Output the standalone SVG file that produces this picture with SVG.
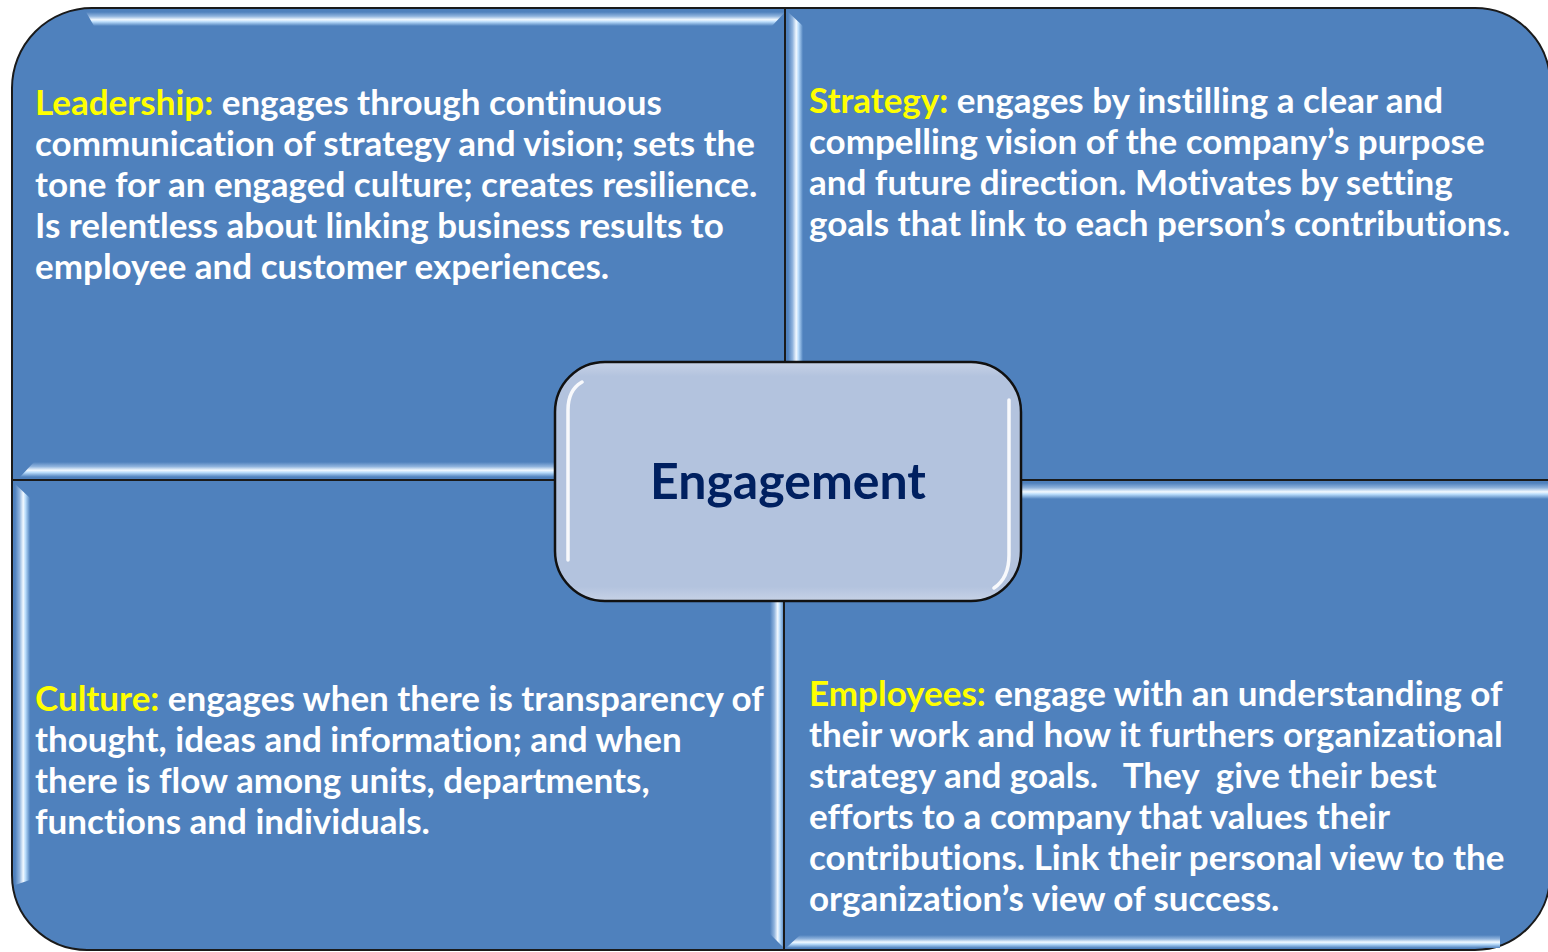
<svg xmlns="http://www.w3.org/2000/svg" width="1548" height="952" viewBox="0 0 1548 952">
<style>
.q{fill:#4f81bd;stroke:#1a1a1a;stroke-width:2}
.t{font-family:Lato,"Open Sans","Liberation Sans",sans-serif;font-weight:bold;font-size:35px;fill:#ffffff;white-space:pre;font-variant-ligatures:none}
.y{fill:#ffff00}
.c{font-family:Lato,"Open Sans","Liberation Sans",sans-serif;font-weight:bold;font-size:50px;fill:#002060;font-variant-ligatures:none}
</style>
<defs>
<linearGradient id="hv" x1="0" y1="0" x2="0" y2="1">
<stop offset="0" stop-color="#4f81bd"/>
<stop offset="0.3" stop-color="#8fb3dd"/>
<stop offset="0.55" stop-color="#f2f9ff"/>
<stop offset="0.7" stop-color="#b9dcfb"/>
<stop offset="1" stop-color="#4f81bd"/>
</linearGradient>
<linearGradient id="hh" x1="0" y1="0" x2="1" y2="0">
<stop offset="0" stop-color="#4f81bd"/>
<stop offset="0.3" stop-color="#8fb3dd"/>
<stop offset="0.55" stop-color="#f2f9ff"/>
<stop offset="0.7" stop-color="#b9dcfb"/>
<stop offset="1" stop-color="#4f81bd"/>
</linearGradient>
<linearGradient id="cb" x1="0" y1="0" x2="0" y2="1">
<stop offset="0" stop-color="#c7d2e6"/>
<stop offset="0.06" stop-color="#b3c3de"/>
<stop offset="0.94" stop-color="#b3c3de"/>
<stop offset="1" stop-color="#c7d2e6"/>
</linearGradient>
</defs>
<g id="leadership">
<path class="q" d="M12,480 L12,88 A80,80 0 0 1 92,8 L785,8 L785,480 Z"/>
<polygon points="86,12 785,12 772,26 94,26" fill="url(#hv)"/>
<polygon points="34,462 785,462 785,477 20,477" fill="url(#hv)"/>
<text class="t" x="35" y="115"><tspan class="y">Leadership:</tspan> engages through continuous</text>
<text class="t" x="35" y="156">communication of strategy and vision; sets the</text>
<text class="t" x="35" y="197">tone for an engaged culture; creates resilience.</text>
<text class="t" x="35" y="238">Is relentless about linking business results to</text>
<text class="t" x="35" y="279">employee and customer experiences.</text>
</g>
<g id="strategy">
<path class="q" d="M785,8 L1475,8 A75,75 0 0 1 1550,83 L1550,480 L785,480 Z"/>
<polygon points="788,12 803,26 803,480 788,480" fill="url(#hh)"/>
<text class="t" x="809" y="113"><tspan class="y">Strategy:</tspan> engages by instilling a clear and</text>
<text class="t" x="809" y="154">compelling vision of the company’s purpose</text>
<text class="t" x="809" y="195">and future direction. Motivates by setting</text>
<text class="t" x="809" y="236">goals that link to each person’s contributions.</text>
</g>
<g id="culture">
<path class="q" d="M12,480 L784,480 L784,950 L87,950 A75,75 0 0 1 12,875 Z"/>
<polygon points="15,484 30,498 30,880 15,885" fill="url(#hh)"/>
<polygon points="770,480 784,480 784,948 770,934" fill="url(#hh)"/>
<text class="t" x="35" y="711"><tspan class="y">Culture:</tspan> engages when there is transparency of</text>
<text class="t" x="35" y="752">thought, ideas and information; and when</text>
<text class="t" x="35" y="793">there is flow among units, departments,</text>
<text class="t" x="35" y="834">functions and individuals.</text>
</g>
<g id="employees">
<path class="q" d="M784,480 L1550,480 L1550,875 A75,75 0 0 1 1475,950 L784,950 Z"/>
<polygon points="784,483 1550,483 1550,499 784,499" fill="url(#hv)"/>
<polygon points="800,935 1500,935 1500,948 786,948" fill="url(#hv)"/>
<text class="t" x="809" y="706"><tspan class="y">Employees:</tspan> engage with an understanding of</text>
<text class="t" x="809" y="747">their work and how it furthers organizational</text>
<text class="t" x="809" y="788">strategy and goals.   They  give their best</text>
<text class="t" x="809" y="829">efforts to a company that values their</text>
<text class="t" x="809" y="870">contributions. Link their personal view to the</text>
<text class="t" x="809" y="911">organization’s view of success.</text>
</g>
<g id="engagement">
<rect x="555" y="362" width="466" height="239" rx="50" ry="50" fill="url(#cb)" stroke="#111111" stroke-width="2.5"/>
<path d="M568,560 L568,410 Q568,390 582,382" fill="none" stroke="#ffffff" stroke-width="3.5" stroke-linecap="round" opacity="0.9"/>
<path d="M1009,400 L1009,555 Q1009,578 994,588" fill="none" stroke="#ffffff" stroke-width="3.5" stroke-linecap="round" opacity="0.9"/>
<text class="c" x="788" y="499" text-anchor="middle">Engagement</text>
</g>
</svg>
